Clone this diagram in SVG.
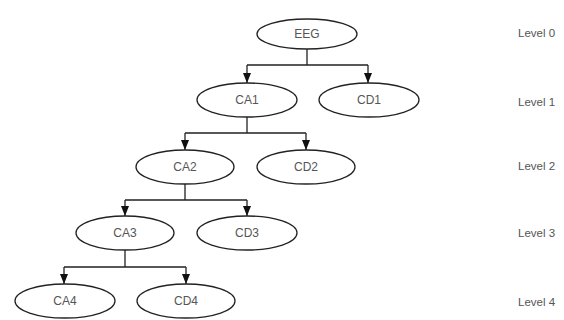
<svg xmlns="http://www.w3.org/2000/svg" width="564" height="320" viewBox="0 0 564 320">
<defs>
<style>
.n ellipse{fill:#fff;stroke:#222;stroke-width:1.3}
.t{font-family:"Liberation Sans",Arial,sans-serif;font-size:12px;fill:#555;text-anchor:middle;dominant-baseline:central}
.lv{font-family:"Liberation Sans",Arial,sans-serif;font-size:11.5px;fill:#555;dominant-baseline:central}
.c path{fill:none;stroke:#222;stroke-width:1.3}
</style>
<marker id="ah" markerWidth="10" markerHeight="8" refX="10" refY="4" orient="auto" markerUnits="userSpaceOnUse">
<path d="M0,0 L10,4 L0,8 Z" fill="#111"/>
</marker>
</defs>
<rect width="564" height="320" fill="#fff"/>
<g id="connectors" class="c">
<path d="M307,49 V65 M247,65 H368"/>
<path d="M247,65 V83" marker-end="url(#ah)"/>
<path d="M368,65 V83" marker-end="url(#ah)"/>
<path d="M247,117 V133 M185,133 H306"/>
<path d="M185,133 V150" marker-end="url(#ah)"/>
<path d="M306,133 V150" marker-end="url(#ah)"/>
<path d="M185,184 V200 M125,200 H247"/>
<path d="M125,200 V216" marker-end="url(#ah)"/>
<path d="M247,200 V216" marker-end="url(#ah)"/>
<path d="M125,250 V267 M64,267 H186"/>
<path d="M64,267 V284" marker-end="url(#ah)"/>
<path d="M186,267 V284" marker-end="url(#ah)"/>
</g>
<g id="EEG" class="n"><ellipse cx="307" cy="34" rx="50" ry="15"/><text class="t" x="307" y="34">EEG</text></g>
<g id="CA1" class="n"><ellipse cx="247" cy="100" rx="50" ry="17"/><text class="t" x="247" y="100">CA1</text></g>
<g id="CD1" class="n"><ellipse cx="369" cy="100" rx="50" ry="17"/><text class="t" x="369" y="100">CD1</text></g>
<g id="CA2" class="n"><ellipse cx="185" cy="167" rx="49" ry="17"/><text class="t" x="185" y="167">CA2</text></g>
<g id="CD2" class="n"><ellipse cx="306" cy="167" rx="49" ry="17"/><text class="t" x="306" y="167">CD2</text></g>
<g id="CA3" class="n"><ellipse cx="125" cy="233" rx="49" ry="17"/><text class="t" x="125" y="233">CA3</text></g>
<g id="CD3" class="n"><ellipse cx="247" cy="233" rx="50" ry="17"/><text class="t" x="247" y="233">CD3</text></g>
<g id="CA4" class="n"><ellipse cx="65" cy="301" rx="50" ry="17"/><text class="t" x="65" y="301">CA4</text></g>
<g id="CD4" class="n"><ellipse cx="186" cy="301" rx="49" ry="17"/><text class="t" x="186" y="301">CD4</text></g>
<g id="levels">
<text class="lv" x="518" y="33">Level 0</text>
<text class="lv" x="518" y="102">Level 1</text>
<text class="lv" x="518" y="166">Level 2</text>
<text class="lv" x="518" y="233">Level 3</text>
<text class="lv" x="518" y="302">Level 4</text>
</g>
</svg>
